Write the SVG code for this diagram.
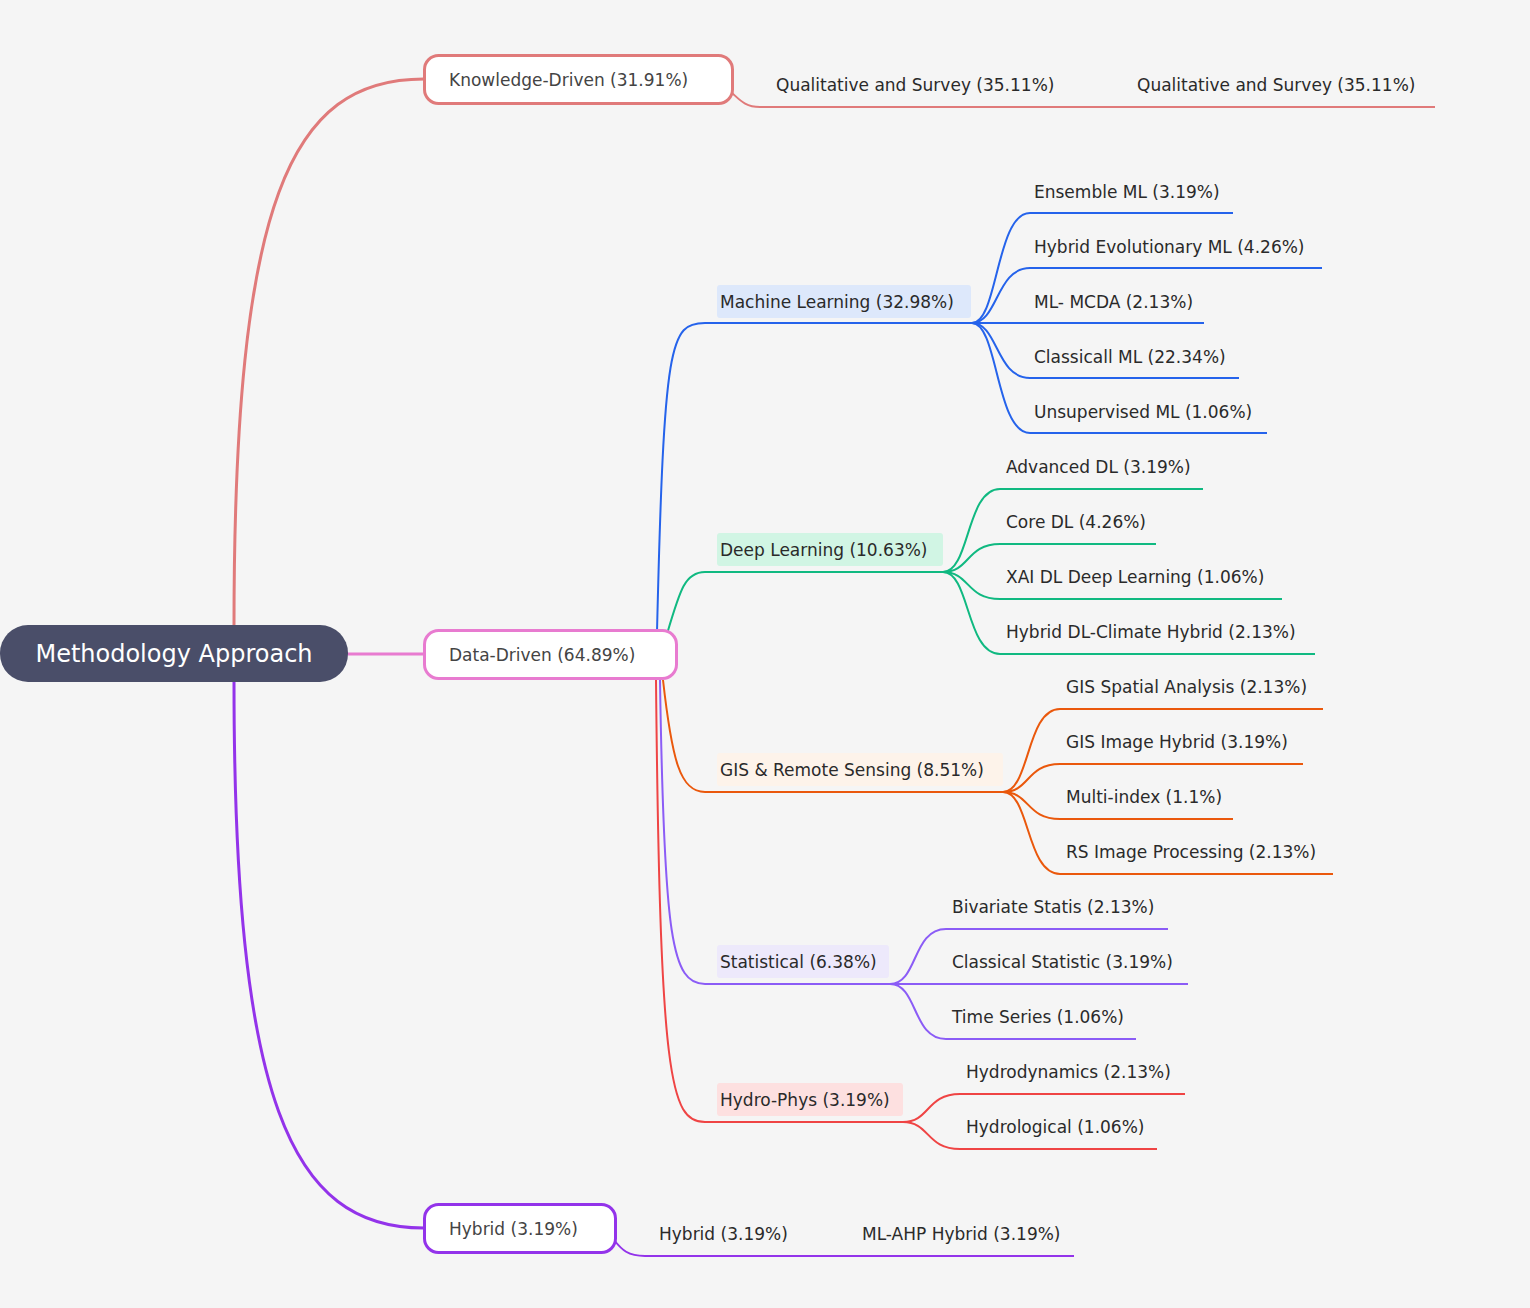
<svg xmlns="http://www.w3.org/2000/svg" width="1530" height="1308" viewBox="0 0 1530 1308">
<style>
text{font-family:"DejaVu Sans","Liberation Sans",sans-serif;font-size:17px;fill:#2a2a2a}
.n{fill:#444}
.l{fill:none;stroke-width:2}
.b{fill:none;stroke-width:3}
</style>
<rect width="1530" height="1308" fill="#f5f5f5"/>
<g id="connectors">
<path class="b" stroke="#e07a7a" d="M234 626 C234 200 290 79 424 79"/>
<path class="b" stroke="#9333ea" d="M234 682 C234 1100 290 1228 424 1228"/>
<path class="b" stroke="#e87bd0" d="M348 654 L424 654"/>
<path class="l" stroke="#e07a7a" d="M731 92 C740 100 745 107 760 107 L1435 107"/>
<path class="l" stroke="#9333ea" d="M614 1240 C622 1250 628 1256 645 1256 L1074 1256"/>
<g stroke="#2563eb" class="l"><path class="l" d="M657 632 C664 340 670 323 705 323 L972 323"/>
<path class="l" d="M972 323 C998 323 996 213 1030 213 L1233 213"/>
<path class="l" d="M972 323 C998 323 996 268 1030 268 L1322 268"/>
<path class="l" d="M972 323 L1204 323"/>
<path class="l" d="M972 323 C998 323 996 378 1030 378 L1239 378"/>
<path class="l" d="M972 323 C998 323 996 433 1030 433 L1267 433"/></g>
<g stroke="#10b981"><path class="l" d="M667 634 C680 590 685 572 705 572 L943 572"/>
<path class="l" d="M943 572 C970 572 966 489 1000 489 L1203 489"/>
<path class="l" d="M943 572 C970 572 966 544 1000 544 L1156 544"/>
<path class="l" d="M943 572 C970 572 966 599 1000 599 L1282 599"/>
<path class="l" d="M943 572 C970 572 966 654 1000 654 L1315 654"/></g>
<g stroke="#ea580c"><path class="l" d="M663 680 C672 760 680 792 705 792 L1003 792"/>
<path class="l" d="M1003 792 C1030 792 1026 709 1060 709 L1323 709"/>
<path class="l" d="M1003 792 C1030 792 1026 764 1060 764 L1303 764"/>
<path class="l" d="M1003 792 C1030 792 1026 819 1060 819 L1233 819"/>
<path class="l" d="M1003 792 C1030 792 1026 874 1060 874 L1333 874"/></g>
<g stroke="#8b5cf6"><path class="l" d="M660 680 C664 940 672 984 705 984 L890 984"/>
<path class="l" d="M890 984 C918 984 912 929 946 929 L1168 929"/>
<path class="l" d="M890 984 L1188 984"/>
<path class="l" d="M890 984 C918 984 912 1039 946 1039 L1136 1039"/></g>
<g stroke="#ef4444"><path class="l" d="M656 680 C660 1080 670 1122 705 1122 L903 1122"/>
<path class="l" d="M903 1122 C930 1122 926 1094 960 1094 L1185 1094"/>
<path class="l" d="M903 1122 C930 1122 926 1149 960 1149 L1157 1149"/></g>
</g>
<g id="root"><rect x="0" y="625" width="348" height="57" rx="28" fill="#4a4e69"/><text x="174" y="662" text-anchor="middle" style="font-size:24px;fill:#fff">Methodology Approach</text></g>
<g id="knowledge"><rect x="424.5" y="55.5" width="308" height="48" rx="14" fill="#fff" stroke="#e07a7a" stroke-width="3"/><text class="n" x="449" y="86">Knowledge-Driven (31.91%)</text></g>
<g id="data"><rect x="424.5" y="630.5" width="252" height="48" rx="14" fill="#fff" stroke="#e87bd0" stroke-width="3"/><text class="n" x="449" y="661">Data-Driven (64.89%)</text></g>
<g id="hybrid"><rect x="424.5" y="1204.5" width="191" height="48" rx="14" fill="#fff" stroke="#9333ea" stroke-width="3"/><text class="n" x="449" y="1235">Hybrid (3.19%)</text></g>
<g id="qual1"><text x="776" y="91">Qualitative and Survey (35.11%)</text></g>
<g id="qual2"><text x="1137" y="91">Qualitative and Survey (35.11%)</text></g>
<g id="hyb1"><text x="659" y="1240">Hybrid (3.19%)</text></g>
<g id="hyb2"><text x="862" y="1240">ML-AHP Hybrid (3.19%)</text></g>
<g id="ml"><rect x="717" y="285" width="254" height="33" rx="3" fill="#dde8fb"/><text x="720" y="308">Machine Learning (32.98%)</text></g>
<g id="dl"><rect x="717" y="533" width="226" height="33" rx="3" fill="#d1f5e4"/><text x="720" y="556">Deep Learning (10.63%)</text></g>
<g id="gis"><rect x="717" y="753" width="286" height="33" rx="3" fill="#fdf3ea"/><text x="720" y="776">GIS &amp; Remote Sensing (8.51%)</text></g>
<g id="stat"><rect x="717" y="945" width="172" height="33" rx="3" fill="#ede9fb"/><text x="720" y="968">Statistical (6.38%)</text></g>
<g id="hydro"><rect x="717" y="1083" width="186" height="33" rx="3" fill="#fde0e0"/><text x="720" y="1106">Hydro-Phys (3.19%)</text></g>
<g id="ml1"><text x="1034" y="198">Ensemble ML (3.19%)</text></g>
<g id="ml2"><text x="1034" y="253">Hybrid Evolutionary ML (4.26%)</text></g>
<g id="ml3"><text x="1034" y="308">ML- MCDA (2.13%)</text></g>
<g id="ml4"><text x="1034" y="363">Classicall ML (22.34%)</text></g>
<g id="ml5"><text x="1034" y="418">Unsupervised ML (1.06%)</text></g>
<g id="dl1"><text x="1006" y="473">Advanced DL (3.19%)</text></g>
<g id="dl2"><text x="1006" y="528">Core DL (4.26%)</text></g>
<g id="dl3"><text x="1006" y="583">XAI DL Deep Learning (1.06%)</text></g>
<g id="dl4"><text x="1006" y="638">Hybrid DL-Climate Hybrid (2.13%)</text></g>
<g id="g1"><text x="1066" y="693">GIS Spatial Analysis (2.13%)</text></g>
<g id="g2"><text x="1066" y="748">GIS Image Hybrid (3.19%)</text></g>
<g id="g3"><text x="1066" y="803">Multi-index (1.1%)</text></g>
<g id="g4"><text x="1066" y="858">RS Image Processing (2.13%)</text></g>
<g id="s1"><text x="952" y="913">Bivariate Statis (2.13%)</text></g>
<g id="s2"><text x="952" y="968">Classical Statistic (3.19%)</text></g>
<g id="s3"><text x="952" y="1023">Time Series (1.06%)</text></g>
<g id="h1"><text x="966" y="1078">Hydrodynamics (2.13%)</text></g>
<g id="h2"><text x="966" y="1133">Hydrological (1.06%)</text></g>
</svg>
